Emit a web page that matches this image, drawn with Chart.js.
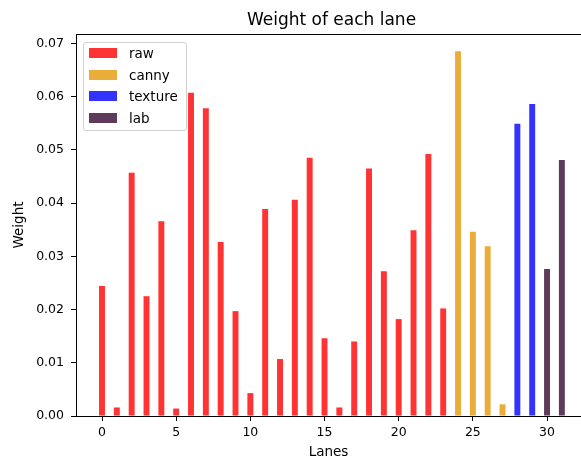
<!DOCTYPE html>
<html>
<head>
<meta charset="utf-8">
<script src="https://cdn.jsdelivr.net/npm/chart.js@4"></script>
<style>
  html, body { margin: 0; padding: 0; background: #fff; overflow: hidden; }
  #wrap { position: relative; width: 581px; height: 459px; }
  #title { position: absolute; left: 76px; width: 511px; top: 9px; text-align: center;
           font: 17px "DejaVu Sans"; line-height: normal; color: #000; }
  #legend { position: absolute; left: 83px; top: 42px; width: 102px; height: 87px;
            border: 1px solid #d0d0d0; border-radius: 3px; background: rgba(255,255,255,0.8);
            font: 13.5px "DejaVu Sans"; color: #000; }
  .item { position: absolute; left: 5px; height: 16px; display: flex; align-items: center; }
  .sw { width: 28px; height: 10px; margin-right: 12px; }
</style>
</head>
<body>
<div id="wrap">
  <canvas id="chart" width="581" height="459"></canvas>
  <div id="title">Weight of each lane</div>
  <div id="legend"></div>
</div>
<script>
// lanes 0..31, handed out in order raw, canny, texture, lab
const lanes = [0, 1, 2, 3, 4, 5, 6, 7, 8, 9, 10, 11, 12, 13, 14, 15,
               16, 17, 18, 19, 20, 21, 22, 23, 24, 25, 26, 27, 28, 29, 30, 31];
const seriesNames = ['raw', 'canny', 'texture', 'lab'];
const rawWeights = [0.0244, 0.0016, 0.0457, 0.0225, 0.0366, 0.0014, 0.0607, 0.0578,
                    0.0327, 0.0197, 0.0043, 0.0389, 0.0107, 0.0406, 0.0485, 0.0146,
                    0.0016, 0.0140, 0.0465, 0.0272, 0.0182, 0.0349, 0.0492, 0.0202];
const cannyWeights = [0.0685, 0.0346, 0.0319, 0.0022];
const textureWeights = [0.0549, 0.0586];
const labWeights = [0.0276, 0.0481];
const xTicks = [0, 5, 10, 15, 20, 25, 30];
const yTicks = [0.00, 0.01, 0.02, 0.03, 0.04, 0.05, 0.06, 0.07];

const colors = ['#ff3333', '#ebad3a', '#3333ff', '#5e3b5a'];
const FONT = 'DejaVu Sans';

let next = 0;
const datasets = [rawWeights, cannyWeights, textureWeights, labWeights].map((w, i) => {
    const pts = w.map(v => ({ x: lanes[next++], y: v }));
    return {
        label: seriesNames[i],
        data: pts,
        backgroundColor: colors[i],
        borderWidth: 0,
        barPercentage: 0.4,
        categoryPercentage: 1,
        grouped: false
    };
});

// legend box inside the axes, like matplotlib's upper left
document.getElementById('legend').innerHTML = seriesNames.map((n, i) =>
    `<div class="item" style="top:${1.7 + i * 21.8}px"><div class="sw" style="background:${colors[i]}"></div>${n}</div>`
).join('');

const topSpine = {
    id: 'topSpine',
    afterDraw(chart) {
        const { ctx, chartArea } = chart;
        ctx.save();
        ctx.strokeStyle = '#000';
        ctx.lineWidth = 1;
        ctx.beginPath();
        ctx.moveTo(chartArea.left, chartArea.top + 0.5);
        ctx.lineTo(chartArea.right, chartArea.top + 0.5);
        ctx.stroke();
        ctx.restore();
    }
};

new Chart(document.getElementById('chart').getContext('2d'), {
    type: 'bar',
    data: { datasets },
    plugins: [topSpine],
    options: {
        responsive: false,
        animation: false,
        devicePixelRatio: 1,
        layout: { padding: { top: 34, left: 0, right: 0, bottom: 0 } },
        plugins: { legend: { display: false }, title: { display: false }, tooltip: { enabled: false } },
        scales: {
            x: {
                type: 'linear',
                offset: false,
                min: -1.753,
                max: 32.29,
                afterFit: s => { s.height = 43; },
                afterBuildTicks: s => { s.ticks = xTicks.map(v => ({ value: v })); },
                ticks: { font: { family: FONT, size: 12.5 }, color: '#000', padding: 4, maxRotation: 0 },
                grid: { display: true, offset: false, drawOnChartArea: false, drawTicks: true, tickLength: 5, color: '#000' },
                border: { display: true, color: '#000', width: 1 },
                title: { display: true, text: 'Lanes', color: '#000', font: { family: FONT, size: 13.5, lineHeight: 1 }, padding: { top: 0, bottom: 0 } }
            },
            y: {
                min: 0,
                max: 0.07175,
                afterFit: s => { s.width = 76; },
                afterBuildTicks: s => { s.ticks = yTicks.map(v => ({ value: v })); },
                ticks: { font: { family: FONT, size: 12.5 }, color: '#000', padding: 7, callback: v => v.toFixed(2) },
                grid: { display: true, drawOnChartArea: false, drawTicks: true, tickLength: 5, color: '#000' },
                border: { display: true, color: '#000', width: 1 },
                title: { display: true, text: 'Weight', color: '#000', font: { family: FONT, size: 13.5, lineHeight: 1 }, padding: { top: 13, bottom: 0 } }
            }
        }
    }
});
</script>
</body>
</html>
